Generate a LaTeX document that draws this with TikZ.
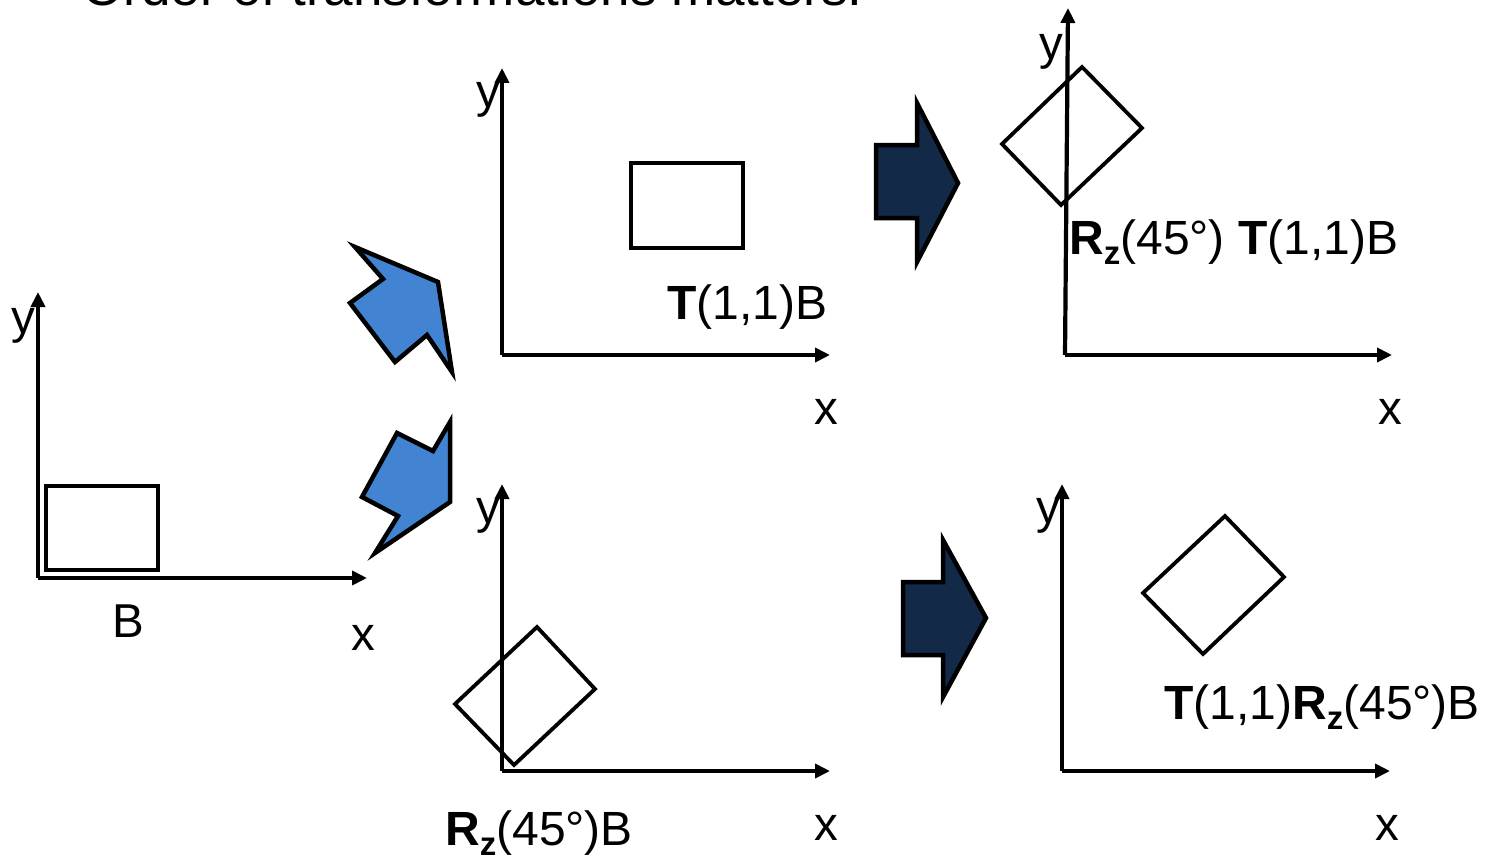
\documentclass[tikz,border=0pt]{standalone}
\usepackage{fontspec}
\setmainfont{Liberation Sans}
\usetikzlibrary{arrows.meta}
\definecolor{navy}{RGB}{19,41,72}
\definecolor{skyblue}{RGB}{66,131,210}
\newcommand{\Rz}{\textbf{R}\raisebox{-0.22em}{\fontsize{33}{33}\selectfont\textbf{z}}}
\tikzset{
  axis/.style={line width=4.2pt,-{Triangle[length=15pt,width=14pt]}},
  shapeline/.style={line width=3.8pt,line join=miter},
  bigarrow/.style={line width=4.5pt,line join=miter,draw=black},
  lbl/.style={inner sep=0pt,anchor=base,font=\fontsize{47.5}{47.5}\selectfont},
  lblw/.style={inner sep=0pt,anchor=base west,font=\fontsize{48}{48}\selectfont},
}
\begin{document}
\begin{tikzpicture}[x=1pt,y=-1pt]
\useasboundingbox (0,0) rectangle (1485,856);
\clip (0,0) rectangle (1485,856);
% title (cut off at top)
\node[inner sep=0pt,anchor=base west,font=\fontsize{53}{53}\selectfont] (title) at (82,6) {Order of transformations matters:};
% coordinates of axes
\coordinate (O1) at (38,578); \coordinate (Y1) at (38,292); \coordinate (X1) at (367,578);
\coordinate (O2) at (502,355); \coordinate (Y2) at (502,68); \coordinate (X2) at (830,355);
\coordinate (O3) at (1065,355); \coordinate (Y3) at (1068,8); \coordinate (X3) at (1392,355);
\coordinate (O4) at (502,771); \coordinate (Y4) at (502,484); \coordinate (X4) at (830,771);
\coordinate (O5) at (1062,771); \coordinate (Y5) at (1062,484); \coordinate (X5) at (1390,771);
% shapes
\draw[shapeline] (46,486) rectangle (158,570);
\draw[shapeline] (631,163) rectangle (743,248);
\draw[shapeline] (1082,67) -- (1142,128) -- (1061,205) -- (1002,144) -- cycle;
\draw[shapeline] (537,627) -- (595,689) -- (514,765) -- (455,704) -- cycle;
\draw[shapeline] (1225,516) -- (1284,577) -- (1203,654) -- (1143,593) -- cycle;
% axes
\foreach \i in {1,...,5}{
  \draw[axis] (O\i) -- (Y\i);
  \draw[axis] (O\i) -- (X\i);
}
% axis labels
\node[lbl] (y1) at (23,333) {y};
\node[lbl] (x1) at (363,650) {x};
\node[lbl] (y2) at (488,108) {y};
\node[lbl] (x2) at (826,424) {x};
\node[lbl] (y3) at (1051,60) {y};
\node[lbl] (x3) at (1390,424) {x};
\node[lbl] (y4) at (488,523) {y};
\node[lbl] (x4) at (826,840) {x};
\node[lbl] (y5) at (1048,523) {y};
\node[lbl] (x5) at (1387,840) {x};
% object labels
\node[lbl] (lB) at (128,637) {B};
\node[lblw] (lT) at (667,319) {\textbf{T}(1,1)B};
\node[lblw] (lRT) at (1069,254) {\Rz(45°) \textbf{T}(1,1)B};
\node[lblw] (lR) at (445,845) {\Rz(45°)B};
\node[lblw] (lTR) at (1164,719) {\textbf{T}(1,1)\Rz(45°)B};
% blue arrows
\draw[bigarrow,fill=skyblue] (355,247) -- (438,282) -- (452,372) -- (427,335) -- (395,362) -- (350,303) -- (383,279) -- cycle;
\draw[bigarrow,fill=skyblue] (450,422) -- (450,502) -- (375,553) -- (398,516) -- (362,497) -- (397,433) -- (433,451) -- cycle;
% dark arrows
\draw[bigarrow,fill=navy] (876,145) -- (917,145) -- (917,103) -- (958,183) -- (917,262) -- (917,218) -- (876,218) -- cycle;
\draw[bigarrow,fill=navy] (903,582) -- (943,582) -- (943,540) -- (986,618) -- (943,697) -- (943,655) -- (903,655) -- cycle;
\end{tikzpicture}
\end{document}
